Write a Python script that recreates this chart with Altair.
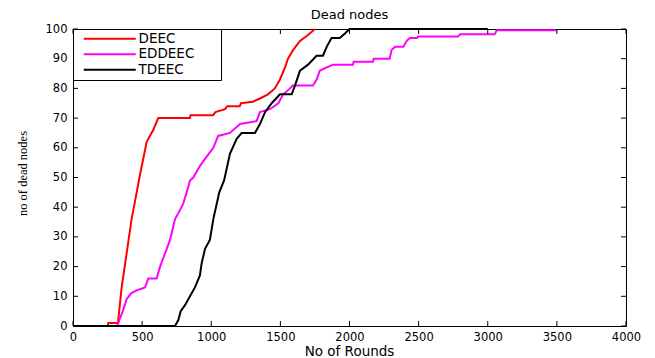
import altair as alt
import pandas as pd

# ---- data ----
series_names = ["DEEC", "EDDEEC", "TDEEC"]
series_colors = ["#ff0000", "#ff00ff", "#000000"]

deec_rounds = [0, 250, 255, 325, 352, 424, 485, 533, 580, 617, 846, 850, 1013, 1030,
               1100, 1115, 1206, 1215, 1300, 1352, 1410, 1460, 1497, 1533, 1555,
               1593, 1642, 1700, 1750]
deec_dead = [0, 0, 1, 1, 13, 36, 51, 62, 66, 70, 70, 71, 71, 72,
             73, 74, 74, 75, 75.5, 76.6, 78, 80, 83, 87, 90,
             93, 96, 98, 100]

eddeec_rounds = [0, 320, 335, 360, 388, 420, 460, 521, 545, 605, 630, 678, 702, 738,
                 762, 796, 822, 846, 870, 920, 967, 1015, 1050, 1135, 1208, 1328,
                 1352, 1425, 1485, 1520, 1570, 1590, 1736, 1762, 1786, 1880, 2025,
                 2030, 2170, 2175, 2290, 2305, 2330, 2390, 2414, 2437, 2490, 2495,
                 2785, 2800, 3050, 3065, 3500]
eddeec_dead = [0, 0, 2, 5, 9, 11, 12, 13, 16, 16, 20, 26, 29, 36,
               38, 41, 45, 49, 50, 54, 57, 60, 64, 65, 68, 69,
               72, 73, 75, 78, 80, 81, 81, 83, 86, 88, 88,
               89, 89, 90, 90, 93, 94, 94, 96, 97, 97, 97.5,
               97.5, 98.2, 98.2, 99.6, 99.6]

tdeec_rounds = [0, 738, 762, 779, 810, 846, 882, 918, 930, 955, 990, 1015, 1034,
                1058, 1093, 1135, 1184, 1220, 1316, 1352, 1389, 1437, 1497, 1582,
                1606, 1642, 1700, 1762, 1808, 1835, 1870, 1930, 1967, 2000, 3000]
tdeec_dead = [0, 0, 2, 5, 7, 10, 13, 17, 21, 26, 29, 36, 40,
              45, 49, 58, 63, 65, 65, 68, 72, 75, 78, 78,
              81, 86, 88, 91, 91, 94, 97, 97, 98.5, 100, 100]

x_ticks = [0, 500, 1000, 1500, 2000, 2500, 3000, 3500, 4000]
y_ticks = [0, 10, 20, 30, 40, 50, 60, 70, 80, 90, 100]

# ---- build table ----
rows = []
for name, rs, ds in zip(series_names,
                        [deec_rounds, eddeec_rounds, tdeec_rounds],
                        [deec_dead, eddeec_dead, tdeec_dead]):
    for j, (r, d) in enumerate(zip(rs, ds)):
        rows.append({"series": name, "idx": j, "round": r, "dead": d})
df = pd.DataFrame(rows)

FONT = "DejaVu Sans"
W, H = 553, 297

x_scale = alt.Scale(domain=[0, 4000], nice=False, zero=False)
y_scale = alt.Scale(domain=[0, 100], nice=False)
color_scale = alt.Scale(domain=series_names, range=series_colors)

x_axis = alt.Axis(values=x_ticks, format="d", title="No of Rounds", ticks=False,
                  tickSize=0, domain=False, grid=False, labelFont=FONT,
                  labelFontSize=11.5, labelColor="black", labelPadding=5,
                  labelFlush=False, labelOverlap=False, titleFont=FONT,
                  titleFontSize=13.5, titleFontWeight="normal", titleColor="black",
                  titleY=29, titleX=276, titleBaseline="alphabetic")
y_axis = alt.Axis(values=y_ticks, format="d", title="no of dead nodes", ticks=False,
                  tickSize=0, domain=False, grid=False, labelFont=FONT,
                  labelFontSize=11.5, labelColor="black", labelPadding=6,
                  labelFlush=False, labelOverlap=False,
                  titleFont="Liberation Sans Narrow", titleFontSize=12.5,
                  titleFontWeight="normal", titleColor="black", titleAngle=270,
                  titleX=-47, titleY=144, titleAlign="center",
                  titleBaseline="alphabetic")

legend = alt.Legend(title=None, orient="top-left", offset=0, padding=3,
                    strokeColor="black", fillColor="white", cornerRadius=0,
                    symbolType="M-5.2,0H5.2", symbolSize=100, symbolStrokeWidth=2,
                    symbolOffset=27, labelOffset=22, labelFont=FONT,
                    labelFontSize=13.5, labelColor="black", rowPadding=0.5,
                    labelExpr="datum.label + '\u2003\u2800'")

layers = []
for i, name in enumerate(series_names):
    enc = dict(
        x=alt.X("round:Q", scale=x_scale, axis=x_axis),
        y=alt.Y("dead:Q", scale=y_scale, axis=y_axis),
        color=alt.Color("series:N", scale=color_scale, legend=legend),
        order="idx:Q",
    )
    layers.append(
        alt.Chart(df).transform_filter(alt.datum.series == name)
        .mark_line(strokeWidth=2)
        .encode(**enc)
    )

xt = pd.DataFrame({"t": x_ticks})
yt = pd.DataFrame({"t": y_ticks})
tick_style = dict(color="black", strokeWidth=1)
ticks_bottom = alt.Chart(xt).mark_rule(**tick_style).encode(
    x=alt.X("t:Q", scale=x_scale, axis=x_axis), y=alt.value(H), y2=alt.value(H - 5))
ticks_top = alt.Chart(xt).mark_rule(**tick_style).encode(
    x=alt.X("t:Q", scale=x_scale, axis=x_axis), y=alt.value(0), y2=alt.value(5))
ticks_left = alt.Chart(yt).mark_rule(**tick_style).encode(
    y=alt.Y("t:Q", scale=y_scale, axis=y_axis), x=alt.value(0), x2=alt.value(5))
ticks_right = alt.Chart(yt).mark_rule(**tick_style).encode(
    y=alt.Y("t:Q", scale=y_scale, axis=y_axis), x=alt.value(W), x2=alt.value(W - 5))

chart = alt.layer(*layers, ticks_bottom, ticks_top, ticks_left, ticks_right).properties(
    width=W, height=H,
    title=alt.TitleParams("Dead nodes", font=FONT, fontSize=13, fontWeight="normal",
                          color="black", anchor="middle", offset=1),
    autosize=alt.AutoSizeParams(type="none"),
    padding={"left": 73, "top": 29, "right": 29, "bottom": 32},
    background="white",
).configure_view(stroke="black", strokeWidth=1)

chart.save("out.html", embed_options={"renderer": "svg", "actions": False})
